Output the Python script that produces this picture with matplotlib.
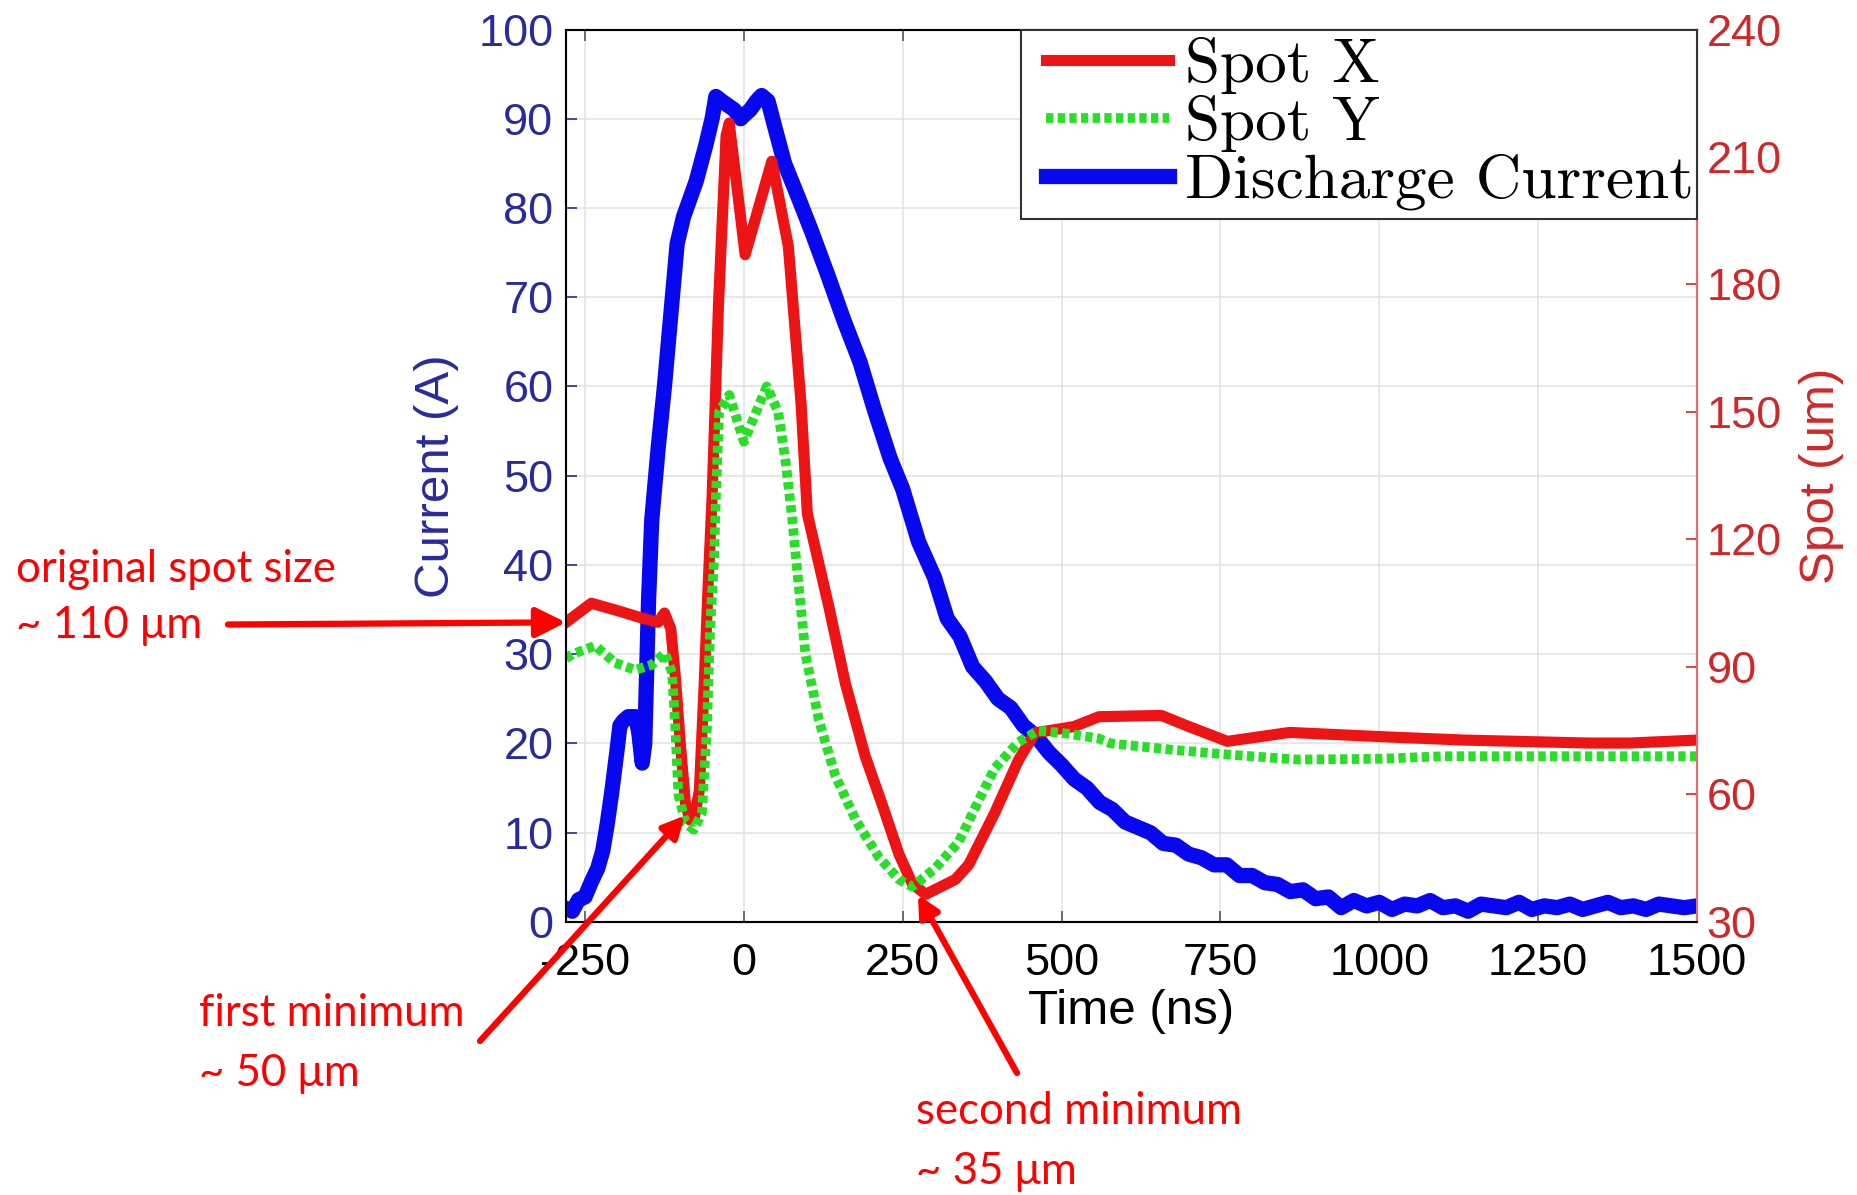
import matplotlib
matplotlib.use("Agg")
import matplotlib.pyplot as plt
from matplotlib.font_manager import FontProperties
from matplotlib.patches import Rectangle

plt.rcParams["axes.unicode_minus"] = False

# ---- discharge current (A) vs time (ns) ----
current_t = [-280, -270, -260, -250, -240, -230, -222, -215, -208, -200, -195,
             -190, -182, -170, -165, -160, -156, -153, -150, -145, -135, -125,
             -115, -105, -95, -75, -60, -50, -44, -35, -25, -15, -5, 2, 10, 20,
             28, 38, 49, 64, 85, 106, 131, 157, 183, 205, 230, 250, 275,
             300, 320, 340, 360, 380, 400, 420, 440, 460, 480, 500, 520, 540,
             560, 580, 600, 620, 640, 660, 680, 700, 720, 740, 760, 780, 800,
             820, 840, 860, 880, 900, 920, 940, 960, 980, 1000, 1020, 1040,
             1060, 1080, 1100, 1120, 1140, 1160, 1180, 1200, 1220, 1240, 1260,
             1280, 1300, 1320, 1340, 1360, 1380, 1400, 1420, 1440, 1460, 1480,
             1500]
current_a = [1.5, 1.2, 2.5, 2.8, 4.5, 6.0, 8.0, 11.0, 14.5, 19.0, 22.0,
             22.5, 23.0, 23.0, 21.0, 17.8, 20.0, 28.0, 36.0, 45.0, 53.0, 60.0,
             68.0, 76.0, 79.0, 83.0, 87.0, 90.0, 92.5, 92.0, 91.5, 91.0, 90.0,
             90.5, 91.0, 92.0, 92.6, 92.0, 89.0, 85.0, 81.3, 77.5, 72.7, 67.5,
             62.7, 57.5, 52.0, 48.5, 42.6,
             38.6, 34.0, 32.0, 28.6, 27.0, 25.0, 24.0, 22.0, 20.8, 19.0, 17.6,
             16.0, 15.0, 13.4, 12.6, 11.2, 10.6, 10.0, 8.8, 8.6, 7.6, 7.2, 6.4,
             6.4, 5.2, 5.2, 4.4, 4.2, 3.4, 3.6, 2.6, 2.8, 1.6, 2.4, 1.8, 2.2,
             1.4, 2.0, 1.8, 2.4, 1.6, 1.8, 1.2, 2.0, 1.8, 1.6, 2.2, 1.4, 1.8,
             1.6, 2.0, 1.4, 1.8, 2.2, 1.6, 1.8, 1.4, 2.0, 1.8, 1.6, 1.8]

# ---- spot size X (um) ----
spot_x_t = [-280, -240, -200, -160, -135, -125, -115, -108, -100, -92, -85,
            -78, -70, -63, -56, -50, -40, -28, -23, 2, 44, 70, 90, 100, 134,
            160, 191, 218, 244, 265, 286, 333, 354, 395, 432, 458, 500, 520,
            559, 657, 700, 761, 859, 1003, 1133, 1330, 1394, 1500]
spot_x_um = [100.5, 105.0, 103.3, 101.5, 100.5, 102.7, 99.0, 88.0, 72.0, 58.0,
             54.0, 54.5, 61.0, 84.0, 110.0, 130.0, 175.0, 215.0, 218.0, 187.0,
             209.0, 189.0, 152.0, 126.0, 104.0, 86.0, 69.0, 57.5, 46.0, 39.0,
             36.5, 40.0, 43.5, 55.7, 68.0, 74.5, 75.5, 76.0, 78.3, 78.6, 76.0,
             72.5, 74.6, 73.6, 72.8, 72.1, 72.1, 72.8]

# ---- spot size Y (um) ----
spot_y_t = [-280, -270, -234, -203, -171, -145, -124, -113, -108, -103, -92,
            -79, -66, -58, -53, -47, -44, -39, -23, 0, 36, 54, 66, 76, 87, 97,
            118, 144, 176, 212, 244, 265, 301, 338, 369, 395, 432, 463, 500,
            558, 578, 676, 761, 872, 1003, 1100, 1500]
spot_y_um = [92.0, 93.0, 95.0, 91.0, 89.3, 90.5, 93.3, 88.6, 76.0, 60.0, 53.3,
             51.7, 55.6, 76.0, 99.5, 115.0, 130.0, 150.0, 154.0, 143.0, 156.0,
             150.0, 138.0, 125.0, 108.0, 93.0, 77.5, 64.4, 54.0, 45.3, 40.0,
             38.3, 42.6, 48.8, 58.4, 66.2, 72.3, 75.0, 74.5, 73.2, 72.0, 70.5,
             69.4, 68.2, 68.4, 69.0, 69.0]

time_ticks = [-250, 0, 250, 500, 750, 1000, 1250, 1500]
current_ticks = list(range(0, 101, 10))
spot_ticks = list(range(30, 241, 30))

C_BLUE = "#0808f0"
C_RED = "#ec1414"
C_GREEN = "#26e026"
C_LBLUE = "#2a2a9e"
C_LRED = "#d02828"
ANN = "#ff0000"

fig = plt.figure(figsize=(18.58, 11.95), dpi=100)
ax = fig.add_axes([0.3046, 0.2285, 0.6087, 0.7468])
ax2 = ax.twinx()

tick_font = {"family": "Liberation Sans", "size": 32.5}
label_font = {"family": "Liberation Sans", "size": 35.5}

ln_cur, = ax.plot(current_t, current_a, color=C_BLUE, lw=11,
                  solid_joinstyle="round", label="Discharge Current")
ln_x, = ax2.plot(spot_x_t, spot_x_um, color=C_RED, lw=8,
                 solid_joinstyle="round", label="Spot X")
ln_y, = ax2.plot(spot_y_t, spot_y_um, color=C_GREEN, lw=7,
                 linestyle=(0, (0.75, 0.45)), dash_capstyle="butt",
                 label="Spot Y")

ax.set_xlim(-280, 1500)
ax.set_ylim(0, 100)
ax2.set_ylim(30, 240)

ax.set_xticks(time_ticks)
ax.set_xticklabels([str(v) for v in time_ticks], fontdict=tick_font)
ax.set_yticks(current_ticks)
ax.set_yticklabels([str(v) for v in current_ticks], fontdict=tick_font,
                   color=C_LBLUE)
ax2.set_yticks(spot_ticks)
ax2.set_yticklabels([str(v) for v in spot_ticks], fontdict=tick_font,
                    color=C_LRED)

ax.grid(True, color="#e4e4e4", lw=1.2)
ax.set_axisbelow(True)
ax.tick_params(axis="both", direction="in", length=8, width=1.2, top=True,
               color="#555555")
ax.tick_params(axis="x", pad=15)
ax.tick_params(axis="y", pad=9, color=C_LBLUE)
ax2.tick_params(axis="y", direction="in", length=8, width=1.2, pad=7,
                color=C_LRED)

ax.spines["left"].set_color("#6a6ab4")
ax.spines["bottom"].set_color("#666666")
ax.spines["top"].set_color("#888888")
ax2.spines["right"].set_color("#e07070")
for sp in list(ax.spines.values()) + list(ax2.spines.values()):
    sp.set_linewidth(1.5)

ax.set_xlabel("Time (ns)", fontdict=label_font, labelpad=4)
ax.set_ylabel("Current (A)", fontdict=label_font, color=C_LBLUE, labelpad=14)
ax2.set_ylabel("Spot (um)", fontdict=label_font, color=C_LRED, labelpad=12)

# legend box, slightly wider than the entries it holds
ax2.add_patch(Rectangle((0.4025, 0.7875), 0.5975, 0.2125,
                        transform=ax2.transAxes, facecolor="white",
                        edgecolor="#333333", lw=1.5, zorder=4,
                        clip_on=False))
leg = ax2.legend([ln_x, ln_y, ln_cur], ["Spot X", "Spot Y", "Discharge Current"],
                 loc="upper right", bbox_to_anchor=(1.004, 1.0),
                 borderaxespad=0, prop=FontProperties(family="cmr10", size=45.5),
                 frameon=False, handlelength=1.95, handletextpad=0.25,
                 labelspacing=0.02, borderpad=0.12)
leg.set_zorder(5)

# ---- annotations ----
ann_font = {"family": "Lato", "size": 31.5, "color": ANN}
arrow = dict(arrowstyle="-|>", color=ANN, lw=4.5, shrinkA=0, shrinkB=0)

fig.text(16 / 1858, 626 / 1195, "original spot size", va="center", ha="left",
         **ann_font)
fig.text(16 / 1858, 569 / 1195, "~ 110 \u03bcm", va="center", ha="left",
         **ann_font)
ax2.annotate("", xy=(-280, 100.5), xytext=(228, 570.5),
             textcoords="figure pixels", annotation_clip=False,
             arrowprops=dict(arrow, mutation_scale=45))

fig.text(199 / 1858, 181 / 1195, "first minimum", va="center", ha="left",
         **ann_font)
fig.text(199 / 1858, 122 / 1195, "~ 50 \u03bcm", va="center", ha="left",
         **ann_font)
ax2.annotate("", xy=(-93, 55), xytext=(480, 154),
             textcoords="figure pixels", annotation_clip=False,
             arrowprops=dict(arrow, mutation_scale=32))

fig.text(916 / 1858, 83 / 1195, "second minimum", va="center", ha="left",
         **ann_font)
fig.text(916 / 1858, 24 / 1195, "~ 35 \u03bcm", va="center", ha="left",
         **ann_font)
ax2.annotate("", xy=(274, 36.4), xytext=(1017, 122),
             textcoords="figure pixels", annotation_clip=False,
             arrowprops=dict(arrow, mutation_scale=32))

fig.savefig("out.png", dpi=100)
